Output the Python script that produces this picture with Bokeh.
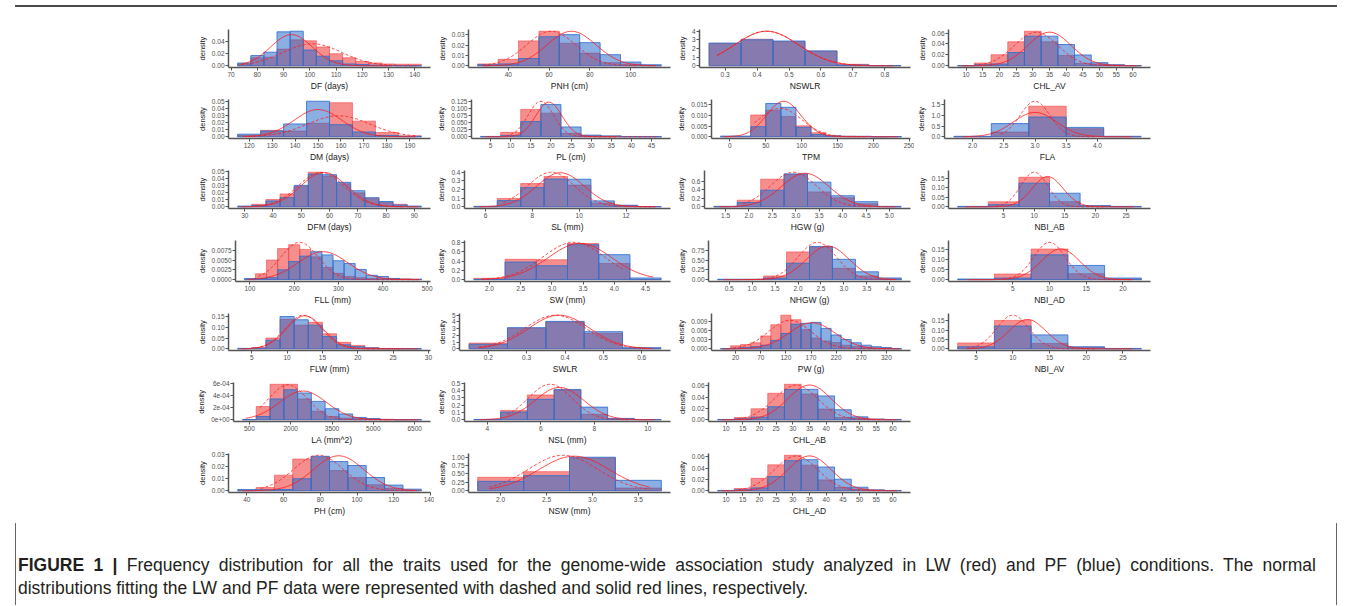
import numpy as np
from bokeh.plotting import figure
from bokeh.layouts import row, column
from bokeh.models import Div, Spacer, FixedTicker
from bokeh.embed import file_html
from bokeh.resources import INLINE

# ---------------- data ----------------
TITLES = ["DF (days)", "DM (days)", "DFM (days)", "FLL (mm)", "FLW (mm)", "LA (mm^2)", "PH (cm)",
          "PNH (cm)", "PL (cm)", "SL (mm)", "SW (mm)", "SWLR", "NSL (mm)", "NSW (mm)",
          "NSWLR", "TPM", "HGW (g)", "NHGW (g)", "PW (g)", "CHL_AB", "CHL_AD",
          "CHL_AV", "FLA", "NBI_AB", "NBI_AD", "NBI_AV"]
COLUMN_OF = [0, 0, 0, 0, 0, 0, 0, 1, 1, 1, 1, 1, 1, 1, 2, 2, 2, 2, 2, 2, 2, 3, 3, 3, 3, 3]

BIN_FIRST = [75, 120, 30, 100, 4, 500, 40, 30, 5, 6, 2.0, 0.2, 4, 2.0, 0.3, -2.5, 1.5, 0.5, 0, 10, 10,
             10, 2.0, 0, 0, 5]
BIN_WIDTH = [5, 10, 5, 25, 2, 500, 10, 10, 5, 1, 0.5, 0.1, 1, 0.5, 0.1, 21, 0.5, 0.5, 20, 5, 5,
             5, 0.6, 5, 5, 5]

LW_DENS = [
    [0.003, 0.013, 0.014, 0.027, 0.042, 0.0405, 0.0305, 0.0195, 0.013, 0.007, 0.0045, 0.003, 0.0025, 0.0025],
    [0.002, 0.009, 0.008, 0.019, 0.048, 0.022, 0.006, 0.0013],
    [0.0, 0.0035, 0.0105, 0.0184, 0.029, 0.0495, 0.044, 0.033, 0.020, 0.012, 0.006, 0.0035, 0.0],
    [0.0, 0.0015, 0.005, 0.0079, 0.0089, 0.0077, 0.0058, 0.0031, 0.0016, 0.0008, 0.0005, 0.0003, 0.0003, 0.0002, 0.0002, 0.0001],
    [0.0, 0.006, 0.05, 0.137, 0.11, 0.123, 0.07, 0.03, 0.016, 0.006, 0.002, 0.001, 0.0],
    [0, 2.16e-4, 5.8e-4, 5.8e-4, 3.4e-4, 1.4e-4, 5.3e-5, 2.6e-5, 1.6e-5, 1e-5, 5e-6, 0, 0],
    [0.0, 0.0026, 0.013, 0.0264, 0.028, 0.0168, 0.011, 0.005, 0.002, 0.0005],
    [0.0018, 0.0062, 0.024, 0.0333, 0.0217, 0.0122, 0.003, 0.0015, 0.0],
    [0.0, 0.0156, 0.097, 0.0837, 0.012, 0.0045, 0.002, 0.001, 0.001],
    [0.0, 0.096, 0.268, 0.35, 0.25, 0.043, 0.014, 0.003],
    [0.029, 0.44, 0.43, 0.78, 0.35, 0.0],
    [0.85, 3.05, 3.98, 2.29, 0.08],
    [0.0, 0.128, 0.34, 0.407, 0.075, 0.012, 0.0],
    [0.40, 0.57, 0.98, 0.08],
    [2.58, 3.07, 2.79, 1.69, 0.17, 0.0],
    [0, 0, 0.0102, 0.0124, 0.0095, 0.0051, 0.0019, 0.0004, 0.0002, 0.0001, 0, 0],
    [0.0, 0.155, 0.65, 0.76, 0.35, 0.21, 0.07, 0.0],
    [0.0, 0.005, 0.094, 0.71, 0.835, 0.29, 0.094, 0.017],
    [0, 0.001, 0.0014, 0.002, 0.0043, 0.008, 0.0112, 0.0097, 0.0064, 0.0036, 0.0026, 0.0021, 0.0012, 0.0008, 0.0005, 0.0003, 0.0003, 0],
    [0, 0.004, 0.0194, 0.047, 0.063, 0.0457, 0.0189, 0.004, 0.0029, 0.001, 0],
    [0, 0.004, 0.022, 0.0458, 0.0628, 0.0453, 0.0192, 0.006, 0.003, 0.0015, 0],
    [0, 0.005, 0.0204, 0.044, 0.0634, 0.044, 0.019, 0.0045, 0.0034, 0.0017, 0],
    [0, 0.22, 1.44, 0.38, 0],
    [0, 0.026, 0.155, 0.027, 0.005, 0],
    [0, 0.028, 0.153, 0.03, 0.003],
    [0.032, 0.153, 0.029, 0.008, 0],
]
PF_DENS = [
    [0.0045, 0.0165, 0.022, 0.055, 0.056, 0.0255, 0.0155, 0.008, 0.003, 0.002, 0.001, 0.0005, 0.0, 0.0],
    [0.0036, 0.008, 0.018, 0.050, 0.017, 0.0067, 0.0018, 0.0005],
    [0.001, 0.002, 0.0083, 0.013, 0.0307, 0.047, 0.046, 0.035, 0.023, 0.013, 0.0075, 0.0026, 0.001],
    [0.0003, 0.0003, 0.0005, 0.0025, 0.0046, 0.006, 0.0071, 0.0063, 0.0048, 0.0041, 0.0026, 0.0011, 0.0008, 0.0003, 0.0001, 0.0001],
    [0.002, 0.003, 0.04, 0.15, 0.135, 0.11, 0.057, 0.019, 0.01, 0.004, 0.001, 0.001, 0.001],
    [2e-6, 5.3e-5, 3.4e-4, 4.9e-4, 4.37e-4, 3.0e-4, 1.8e-4, 9.5e-5, 3.7e-5, 2e-5, 5e-6, 0, 2e-6],
    [0.001, 0.0008, 0.001, 0.010, 0.0287, 0.0243, 0.021, 0.011, 0.0047, 0.0013],
    [0.001, 0.0018, 0.007, 0.028, 0.030, 0.0223, 0.0107, 0.0036, 0.001],
    [0.001, 0.004, 0.0536, 0.114, 0.0346, 0.0056, 0.003, 0.0, 0.0],
    [0.005, 0.071, 0.221, 0.32, 0.318, 0.068, 0.018, 0.003],
    [0.007, 0.38, 0.30, 0.755, 0.54, 0.036],
    [0.68, 3.14, 4.07, 2.54, 0.17],
    [0.004, 0.106, 0.28, 0.416, 0.173, 0.018, 0.003],
    [0.28, 0.45, 1.0, 0.31],
    [2.62, 3.0, 2.86, 1.72, 0.10, 0.03],
    [0.0003, 0.0003, 0.0047, 0.0156, 0.0138, 0.0044, 0.001, 0.0004, 0.0002, 0.0002, 0.0, 0.0001],
    [0.01, 0.1, 0.39, 0.775, 0.58, 0.26, 0.12, 0.01],
    [0.01, 0.01, 0.04, 0.42, 0.85, 0.52, 0.2, 0.043],
    [0.0001, 0.0002, 0.0004, 0.0007, 0.0012, 0.0028, 0.0051, 0.0082, 0.0085, 0.0088, 0.0068, 0.0046, 0.0031, 0.002, 0.0012, 0.0007, 0.0004, 0.0001],
    [0.0005, 0.0017, 0.0046, 0.023, 0.0537, 0.054, 0.0423, 0.0177, 0.0051, 0.001, 0.0005],
    [0.0005, 0.0017, 0.005, 0.025, 0.0532, 0.055, 0.042, 0.0204, 0.0062, 0.0015, 0.0005],
    [0.0005, 0.002, 0.0034, 0.0243, 0.0543, 0.0543, 0.039, 0.0198, 0.0057, 0.0017, 0.0005],
    [0.02, 0.62, 0.93, 0.44, 0.02],
    [0.002, 0.011, 0.124, 0.071, 0.006, 0.002],
    [0.003, 0.008, 0.124, 0.071, 0.008],
    [0.011, 0.123, 0.075, 0.011, 0.002],
]

# normal fits: LW (dashed) and PF (solid)
LW_MEAN = [101, 159, 57, 212, 12.3, 1900, 79, 61, 17.5, 8.8, 3.35, 0.375, 6.35, 2.68, 0.43, 70,
           2.95, 2.42, 128, 31, 31, 31, 3.0, 10, 10, 10]
LW_SD = [11.2, 13.5, 8.1, 42, 2.55, 700, 13.5, 12, 3.17, 1.0, 0.495, 0.08, 0.82, 0.377, 0.1, 30,
         0.49, 0.418, 42, 6.5, 6.5, 6.5, 0.238, 2.2, 2.14, 2.2]
PF_MEAN = [93, 150, 58, 265, 12.5, 2450, 90, 71, 19.5, 9.2, 3.45, 0.385, 6.7, 2.8, 0.43, 75,
           3.2, 2.65, 172, 35, 35, 35, 3.0, 12.2, 11.5, 12]
PF_SD = [7.9, 10.4, 8.1, 56, 2.6, 850, 13.7, 12, 3.25, 1.015, 0.509, 0.08, 0.9, 0.387, 0.1, 24,
         0.505, 0.464, 46, 6.47, 6.47, 6.47, 0.347, 2.52, 2.6, 2.52]

X_TICK_LABELS = [
    ["70", "80", "90", "100", "110", "120", "130", "140"],
    ["120", "130", "140", "150", "160", "170", "180", "190"],
    ["30", "40", "50", "60", "70", "80", "90"],
    ["100", "200", "300", "400", "500"],
    ["5", "10", "15", "20", "25", "30"],
    ["500", "2000", "3500", "5000", "6500"],
    ["40", "60", "80", "100", "120", "140"],
    ["40", "60", "80", "100"],
    ["5", "10", "15", "20", "25", "30", "35", "40", "45"],
    ["6", "8", "10", "12"],
    ["2.0", "2.5", "3.0", "3.5", "4.0", "4.5"],
    ["0.2", "0.3", "0.4", "0.5", "0.6"],
    ["4", "6", "8", "10"],
    ["2.0", "2.5", "3.0", "3.5"],
    ["0.3", "0.4", "0.5", "0.6", "0.7", "0.8"],
    ["0", "50", "100", "150", "200", "250"],
    ["1.5", "2.0", "2.5", "3.0", "3.5", "4.0", "4.5", "5.0"],
    ["0.5", "1.0", "1.5", "2.0", "2.5", "3.0", "3.5", "4.0"],
    ["20", "70", "120", "170", "220", "270", "320"],
    ["10", "15", "20", "25", "30", "35", "40", "45", "50", "55", "60"],
    ["10", "15", "20", "25", "30", "35", "40", "45", "50", "55", "60"],
    ["10", "15", "20", "25", "30", "35", "40", "45", "50", "55", "60"],
    ["2.0", "2.5", "3.0", "3.5", "4.0"],
    ["5", "10", "15", "20", "25"],
    ["5", "10", "15", "20"],
    ["5", "10", "15", "20", "25"],
]
Y_TICK_LABELS = [
    ["0.00", "0.02", "0.04"],
    ["0.00", "0.01", "0.02", "0.03", "0.04", "0.05"],
    ["0.00", "0.01", "0.02", "0.03", "0.04", "0.05"],
    ["0.0000", "0.0025", "0.0050", "0.0075"],
    ["0.00", "0.05", "0.10", "0.15"],
    ["0e+00", "2e-04", "4e-04", "6e-04"],
    ["0.00", "0.01", "0.02", "0.03"],
    ["0.00", "0.01", "0.02", "0.03"],
    ["0.000", "0.025", "0.050", "0.075", "0.100", "0.125"],
    ["0.0", "0.1", "0.2", "0.3", "0.4"],
    ["0.0", "0.2", "0.4", "0.6", "0.8"],
    ["0", "1", "2", "3", "4", "5"],
    ["0.0", "0.1", "0.2", "0.3", "0.4", "0.5"],
    ["0.00", "0.25", "0.50", "0.75", "1.00"],
    ["0", "1", "2", "3", "4"],
    ["0.000", "0.005", "0.010", "0.015"],
    ["0.0", "0.2", "0.4", "0.6"],
    ["0.00", "0.25", "0.50", "0.75"],
    ["0.000", "0.003", "0.006", "0.009"],
    ["0.00", "0.02", "0.04", "0.06"],
    ["0.00", "0.02", "0.04", "0.06"],
    ["0.00", "0.02", "0.04", "0.06"],
    ["0.0", "0.5", "1.0", "1.5"],
    ["0.00", "0.05", "0.10", "0.15"],
    ["0.00", "0.05", "0.10", "0.15"],
    ["0.00", "0.05", "0.10", "0.15"],
]

CAPTION_BOLD = "FIGURE 1 |"
CAPTION_1 = ("Frequency distribution for all the traits used for the genome-wide association study "
             "analyzed in LW (red) and PF (blue) conditions. The normal")
CAPTION_2 = ("distributions fitting the LW and PF data were represented with dashed and solid red "
             "lines, respectively.")

# ---------------- style ----------------
FONT = "Liberation Sans"
RED_FILL, RED_LINE = "#F01E1E", "#F23A3A"
BLUE_FILL, BLUE_LINE = "#2468CA", "#3470CC"
CURVE = "#FF1A1A"
AXIS_COL = "#555555"
ROW_H = [70, 71, 70, 73, 69, 71, 71]
COL_W = 240


def normal_pdf(x, m, s):
    return np.exp(-0.5 * ((x - m) / s) ** 2) / (s * np.sqrt(2 * np.pi))


def curve_x(dens, left, right, w):
    nz = [i for i, v in enumerate(dens) if v > 0]
    lo = left[nz[0]] + 0.25 * w
    hi = right[nz[-1]] - 0.25 * w
    return np.linspace(lo, hi, 120)


def make_panel(k, h):
    w = BIN_WIDTH[k]
    lw = np.array(LW_DENS[k], dtype=float)
    pf = np.array(PF_DENS[k], dtype=float)
    n = len(lw)
    centers = BIN_FIRST[k] + w * np.arange(n)
    left = centers - w / 2
    right = centers + w / 2

    xl = curve_x(lw, left, right, w)
    yl = normal_pdf(xl, LW_MEAN[k], LW_SD[k])
    xp = curve_x(pf, left, right, w)
    yp = normal_pdf(xp, PF_MEAN[k], PF_SD[k])

    x0, x1 = left[0], right[-1]
    span = x1 - x0
    ymax = max(lw.max(), pf.max(), yl.max(), yp.max())

    p = figure(width=COL_W, height=h,
               x_range=(x0 - 0.05 * span, x1 + 0.05 * span),
               y_range=(-0.05 * ymax, 1.05 * ymax),
               output_backend="svg", toolbar_location=None,
               min_border_left=0, min_border_right=4,
               min_border_top=6, min_border_bottom=24)
    p.frame_align = False
    p.xgrid.visible = False
    p.ygrid.visible = False
    p.outline_line_color = None
    p.background_fill_color = None
    p.border_fill_color = None

    p.quad(left=left, right=right, bottom=0, top=lw,
           fill_color=RED_FILL, fill_alpha=0.5,
           line_color=RED_LINE, line_alpha=0.55, line_width=1)
    p.quad(left=left, right=right, bottom=0, top=pf,
           fill_color=BLUE_FILL, fill_alpha=0.53,
           line_color=BLUE_LINE, line_alpha=0.85, line_width=1)

    p.line(xp, yp, line_color=CURVE, line_width=1, line_alpha=0.8)
    p.line(xl, yl, line_color=CURVE, line_width=1, line_alpha=0.8, line_dash="3 2")

    xt = [float(s) for s in X_TICK_LABELS[k]]
    yt = [float(s) for s in Y_TICK_LABELS[k]]
    p.xaxis.ticker = FixedTicker(ticks=xt)
    p.yaxis.ticker = FixedTicker(ticks=yt)
    p.xaxis.major_label_overrides = {t: s for t, s in zip(xt, X_TICK_LABELS[k])}
    p.yaxis.major_label_overrides = {t: s for t, s in zip(yt, Y_TICK_LABELS[k])}
    p.xaxis.axis_label = TITLES[k]
    p.yaxis.axis_label = "density"

    for ax in (p.xaxis[0], p.yaxis[0]):
        ax.axis_line_color = AXIS_COL
        ax.axis_line_width = 1.5
        ax.major_tick_line_color = AXIS_COL
        ax.major_tick_in = 0
        ax.major_tick_out = 3
        ax.minor_tick_line_color = None
        ax.major_label_text_font = FONT
        ax.major_label_text_font_size = "6.5px"
        ax.major_label_text_color = "#4D4D4D"
        ax.major_label_standoff = 1
        ax.axis_label_text_font = FONT
        ax.axis_label_text_font_style = "normal"
        ax.axis_label_text_color = "#1a1a1a"
        ax.axis_label_standoff = 2
    p.xaxis.axis_label_standoff = 1
    p.xaxis.axis_label_text_font_size = "8.5px"
    p.yaxis.axis_label_text_font_size = "7.5px"
    return p


cols = [[], [], [], []]
for k in range(len(TITLES)):
    c = COLUMN_OF[k]
    r = len(cols[c])
    cols[c].append(make_panel(k, ROW_H[r]))

grid = row([Spacer(width=194)] + [column(cl, width=COL_W) for cl in cols])

top_rule = Div(text="", width=1322, height=13,
               styles={"border-top": "2px solid #4a4a4a", "box-sizing": "border-box"})

caption_html = (
    '<div style="width:1322px;height:82px;box-sizing:border-box;margin:0;'
    'border-left:1px solid #666;border-right:1px solid #666;'
    'padding:31px 0 0 2px;font-family:\'Liberation Sans\';font-size:17.5px;'
    'line-height:23px;color:#231f20;">'
    '<div style="width:1298px;white-space:nowrap;text-align:justify;text-align-last:justify;">'
    '<b>' + CAPTION_BOLD + '</b> ' + CAPTION_1 + '</div>'
    '<div style="white-space:nowrap;">' + CAPTION_2 + '</div></div>'
)
caption = Div(text=caption_html, width=1322, height=82)

page = column(row(Spacer(width=10), top_rule), grid, row(Spacer(width=10), caption))

open("out.html", "w").write(file_html(page, INLINE))
